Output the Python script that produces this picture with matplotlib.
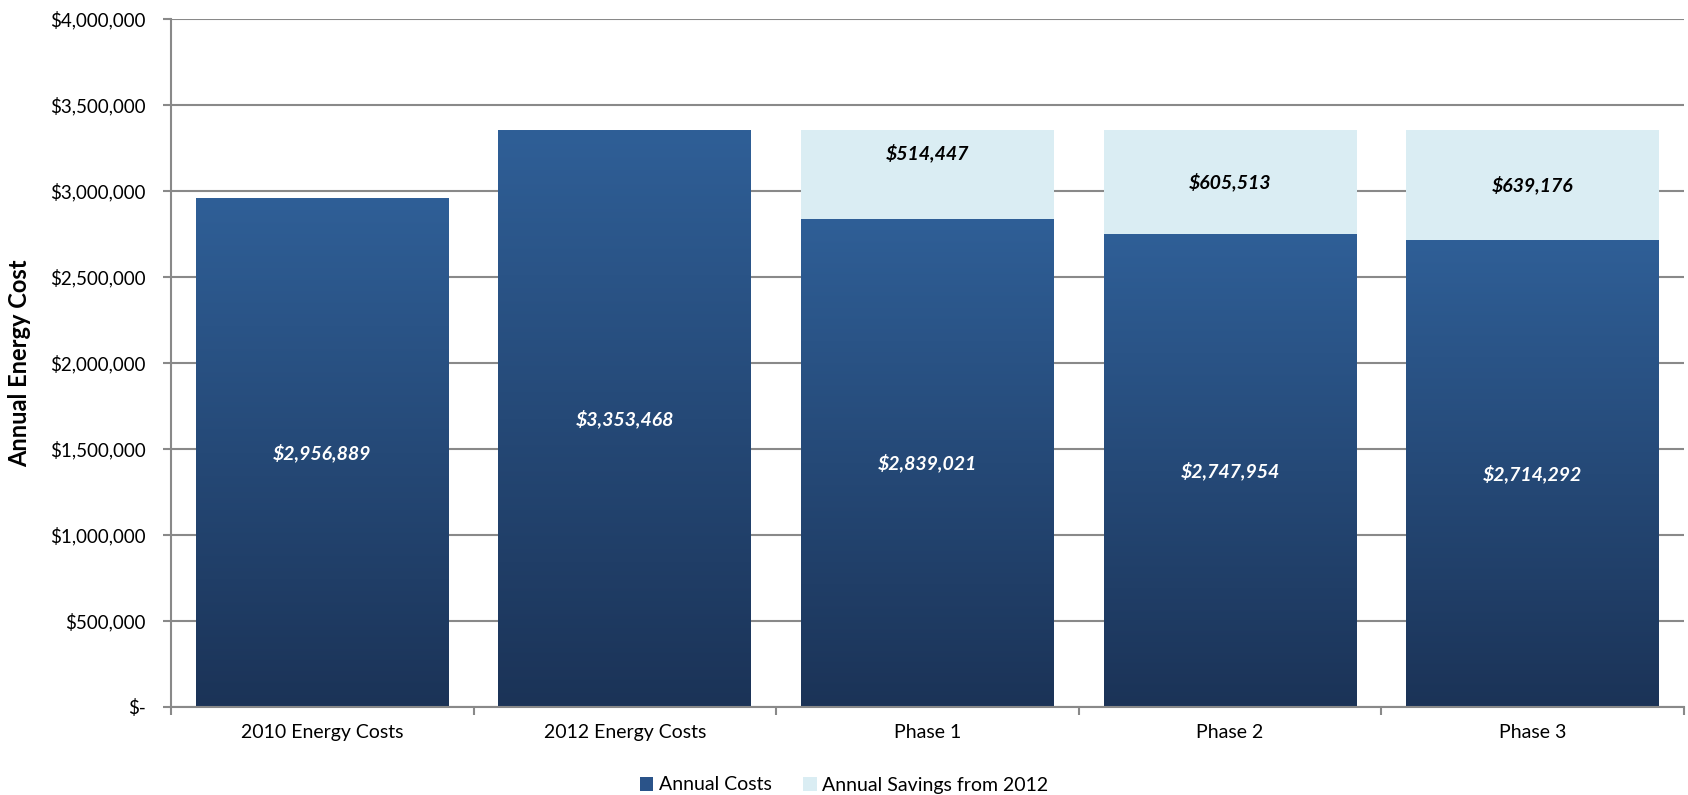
import matplotlib
matplotlib.use("Agg")
import matplotlib.pyplot as plt
import numpy as np
from matplotlib.colors import LinearSegmentedColormap
from matplotlib.ticker import FuncFormatter, FixedLocator
from matplotlib.patches import Patch

categories = ["2010 Energy Costs", "2012 Energy Costs", "Phase 1", "Phase 2", "Phase 3"]
annual_costs = [2956889, 3353468, 2839021, 2747954, 2714292]
annual_savings = [0, 0, 514447, 605513, 639176]
series_names = ["Annual Costs", "Annual Savings from 2012"]
yticks = [0, 500000, 1000000, 1500000, 2000000, 2500000, 3000000, 3500000, 4000000]

# label placement within savings segment (fraction of segment height)
savings_label_frac = [0.5, 0.5, 0.74, 0.5, 0.5]

plt.rcParams['font.family'] = ['Lato', 'DejaVu Sans']

fig = plt.figure(figsize=(16.88, 7.95), dpi=100)
ax = fig.add_axes([171/1688, 1 - 707/795, (1684-171)/1688, (707-19)/795])

x = np.arange(len(categories))
width = 0.836
top_col = "#2F5F97"
bot_col = "#1B3357"
light_col = "#DAEDF3"
grid_col = "#898989"

cmap = LinearSegmentedColormap.from_list("g", [bot_col, top_col])
grad = np.linspace(0, 1, 256).reshape(-1, 1)

bars = ax.bar(x, annual_costs, width, color=top_col, label=series_names[0], zorder=2)
for b in bars:
    bx, by = b.get_x(), b.get_y()
    bw, bh = b.get_width(), b.get_height()
    im = ax.imshow(grad, cmap=cmap, aspect='auto', origin='lower',
                   extent=[bx, bx + bw, by, by + bh], zorder=2.1)
    im.set_clip_path(b)

sav_bars = ax.bar(x, annual_savings, width, bottom=annual_costs, color=light_col,
                  label=series_names[1], zorder=2)

for i, v in enumerate(annual_costs):
    ax.text(x[i], v / 2, f"${v:,.0f}", ha='center', va='center', color='white',
            fontsize=14, fontweight='bold', fontstyle='italic', zorder=5)
for i, v in enumerate(annual_savings):
    if v > 0:
        ax.text(x[i], annual_costs[i] + v * savings_label_frac[i], f"${v:,.0f}",
                ha='center', va='center', color='black', fontsize=14,
                fontweight='bold', fontstyle='italic', zorder=5)

ax.set_xlim(-0.5, len(categories) - 0.5)
ax.set_ylim(0, 4000000)
ax.yaxis.set_major_locator(FixedLocator(yticks))
ax.yaxis.set_major_formatter(FuncFormatter(lambda v, p: "$-" if v == 0 else f"${v:,.0f}"))
ax.yaxis.grid(True, color=grid_col, linewidth=1.5, zorder=0)
ax.set_axisbelow(True)

ax.set_xticks(x)
ax.set_xticklabels(categories)
ax.set_xticks(np.arange(-0.5, len(categories), 1), minor=True)
ax.tick_params(axis='x', which='major', length=0, pad=12, labelsize=14)
ax.tick_params(axis='x', which='minor', length=6, width=1.5, color=grid_col)
ax.tick_params(axis='y', length=6, width=1.5, color=grid_col, labelsize=13.5, pad=12)

for s in ['top', 'right']:
    ax.spines[s].set_visible(False)
for s in ['left', 'bottom']:
    ax.spines[s].set_color(grid_col)
    ax.spines[s].set_linewidth(1.5)

ax.set_ylabel("Annual Energy Cost", fontsize=17, fontweight='bold')
ax.yaxis.set_label_coords(-(171 - 31) / (1684 - 171), 0.5)

handles = [Patch(facecolor="#2A5389", edgecolor='none'), Patch(facecolor=light_col, edgecolor='none')]
fig.legend(handles, series_names, loc='center', bbox_to_anchor=(0.5, 1 - 785/795),
           ncol=2, frameon=False, fontsize=14, handlelength=0.7, handleheight=0.7,
           handletextpad=0.3, columnspacing=1.6)

fig.savefig("out.png", dpi=100)
